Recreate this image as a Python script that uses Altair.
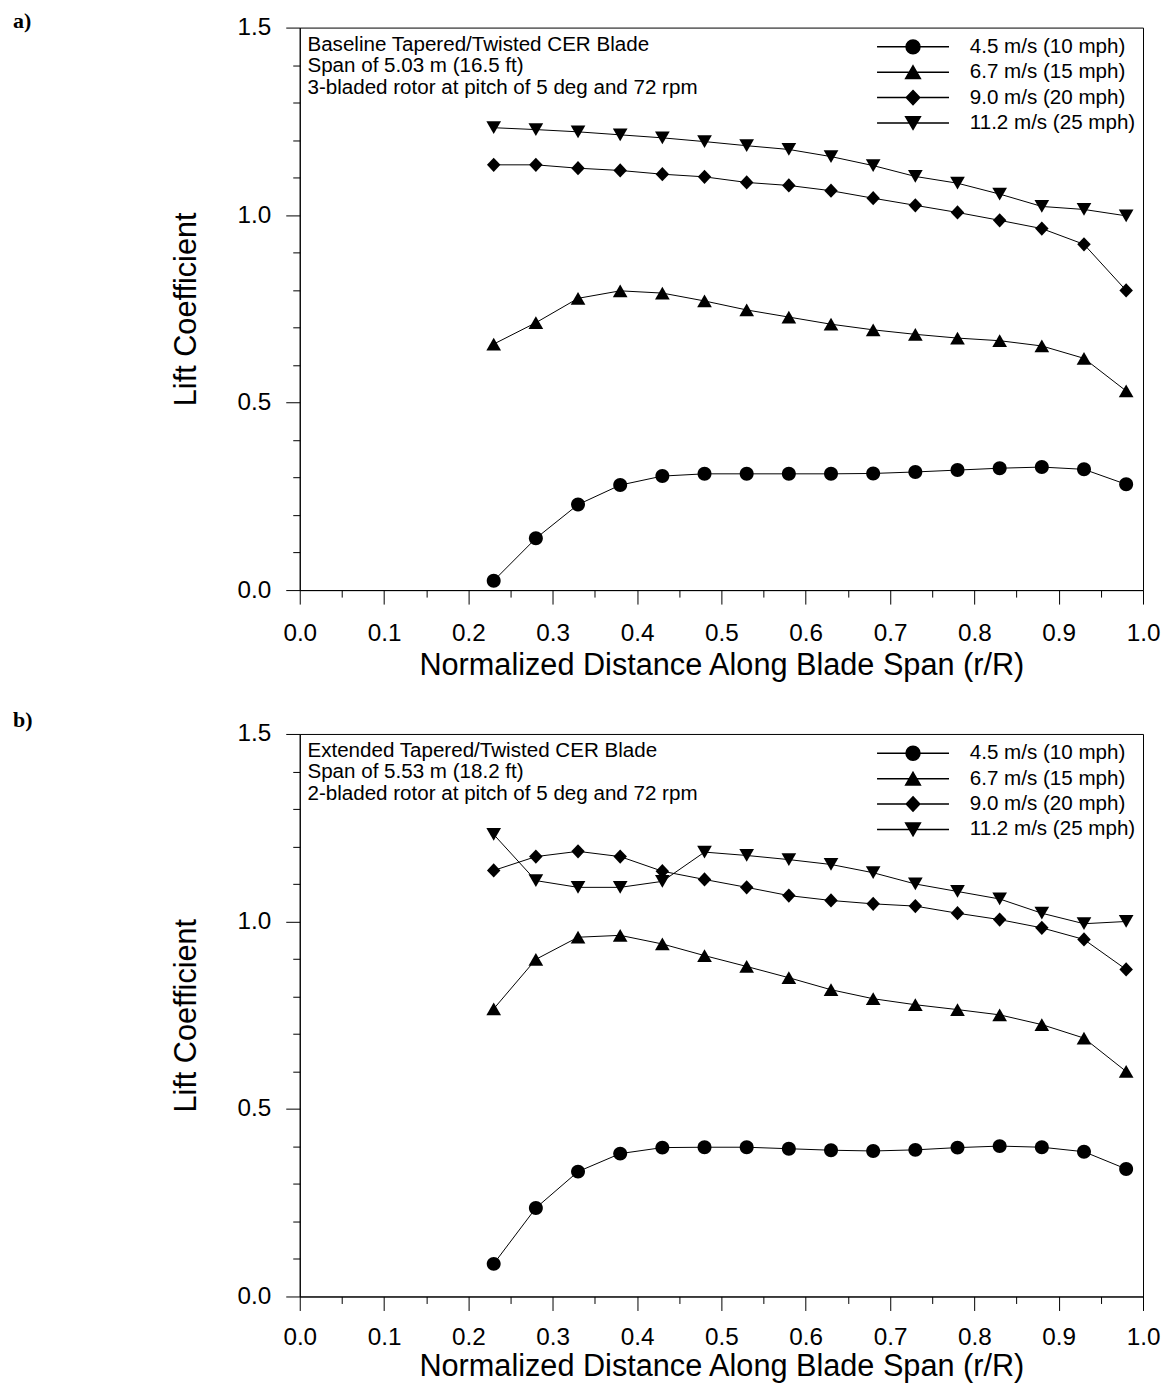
import altair as alt
import pandas as pd

# ---------------- data ----------------
r_over_R = [0.23, 0.28, 0.33, 0.38, 0.43, 0.48, 0.53, 0.58,
            0.63, 0.68, 0.73, 0.78, 0.83, 0.88, 0.93, 0.98]

series_labels = ["4.5 m/s (10 mph)", "6.7 m/s (15 mph)",
                 "9.0 m/s (20 mph)", "11.2 m/s (25 mph)"]

# panel a) baseline blade
a_45 = [0.025, 0.138, 0.228, 0.280, 0.304, 0.310, 0.310, 0.310,
        0.310, 0.311, 0.315, 0.320, 0.325, 0.328, 0.322, 0.282]
a_67 = [0.656, 0.713, 0.778, 0.798, 0.792, 0.771, 0.747, 0.728,
        0.709, 0.694, 0.682, 0.672, 0.665, 0.651, 0.618, 0.531]
a_90 = [1.134, 1.134, 1.125, 1.119, 1.109, 1.102, 1.087, 1.079,
        1.065, 1.045, 1.026, 1.007, 0.986, 0.964, 0.922, 0.799]
a_112 = [1.233, 1.228, 1.222, 1.214, 1.206, 1.196, 1.185, 1.175,
         1.156, 1.132, 1.103, 1.085, 1.056, 1.023, 1.015, 0.998]

# panel b) extended blade
b_45 = [0.087, 0.236, 0.333, 0.381, 0.397, 0.398, 0.398, 0.394,
        0.390, 0.388, 0.391, 0.397, 0.401, 0.398, 0.386, 0.340]
b_67 = [0.767, 0.899, 0.958, 0.963, 0.940, 0.909, 0.880, 0.850,
        0.818, 0.794, 0.778, 0.765, 0.751, 0.725, 0.689, 0.600]
b_90 = [1.136, 1.173, 1.187, 1.173, 1.134, 1.112, 1.091, 1.069,
        1.056, 1.047, 1.041, 1.022, 1.005, 0.983, 0.952, 0.872]
b_112 = [1.232, 1.109, 1.091, 1.091, 1.107, 1.185, 1.176, 1.165,
         1.152, 1.130, 1.100, 1.080, 1.060, 1.022, 0.994, 1.000]

notes_a = ["Baseline Tapered/Twisted CER Blade",
           "Span of 5.03 m (16.5 ft)",
           "3-bladed rotor at pitch of 5 deg and 72 rpm"]
notes_b = ["Extended Tapered/Twisted CER Blade",
           "Span of 5.53 m (18.2 ft)",
           "2-bladed rotor at pitch of 5 deg and 72 rpm"]

x_major = [0.0, 0.1, 0.2, 0.3, 0.4, 0.5, 0.6, 0.7, 0.8, 0.9, 1.0]
x_minor = [0.05, 0.15, 0.25, 0.35, 0.45, 0.55, 0.65, 0.75, 0.85, 0.95]
y_major = [0.0, 0.5, 1.0, 1.5]
y_minor = [0.1, 0.2, 0.3, 0.4, 0.6, 0.7, 0.8, 0.9, 1.1, 1.2, 1.3, 1.4]

x_title = "Normalized Distance Along Blade Span (r/R)"
y_title = "Lift Coefficient"

# ---------------- styling ----------------
FONT = "Liberation Sans"
marker_paths = [
    "M0.93,0A0.93,0.93 0 1,1 -0.93,0A0.93,0.93 0 1,1 0.93,0Z",
    "M0,-0.85L0.98,0.85L-0.98,0.85Z",
    "M0,-0.95L0.9,0L0,0.95L-0.9,0Z",
    "M0,0.85L0.98,-0.85L-0.98,-0.85Z",
]
SEG = "M-4.8,0L4.8,0"   # legend line through the marker
legend_paths = [SEG + p for p in marker_paths]


def long_df(series):
    rows = []
    for label, vals in zip(series_labels, series):
        for x, v in zip(r_over_R, vals):
            rows.append({"r": x, "cl": v, "series": label})
    return pd.DataFrame(rows)


def panel(series, notes, tag, tag_y, label_pad, title_pad):
    df = long_df(series)
    xs = alt.Scale(domain=[0, 1], nice=False, zero=False)
    ys = alt.Scale(domain=[0, 1.5], nice=False, zero=False)
    base = alt.Chart(df)

    lines = base.mark_line(color="black", strokeWidth=1).encode(
        x=alt.X("r:Q", scale=xs,
                axis=alt.Axis(values=x_minor, tickSize=7, labels=False,
                              domain=False, title=None, grid=False,
                              orient="bottom")),
        y=alt.Y("cl:Q", scale=ys,
                axis=alt.Axis(values=y_minor, tickSize=7, labels=False,
                              domain=False, title=None, grid=False,
                              orient="left")),
        detail="series:N",
    )

    points = base.mark_point(filled=True, opacity=1, color="black",
                             size=225).encode(
        x=alt.X("r:Q", scale=xs,
                axis=alt.Axis(values=x_major, format=".1f", tickSize=14,
                              labelPadding=label_pad, labelFlush=False,
                              title=x_title, titlePadding=title_pad,
                              grid=False, orient="bottom")),
        y=alt.Y("cl:Q", scale=ys,
                axis=alt.Axis(values=y_major, format=".1f", tickSize=14,
                              labelPadding=15, title=y_title,
                              titlePadding=36, grid=False, orient="left")),
        shape=alt.Shape(
            "series:N",
            scale=alt.Scale(domain=series_labels, range=marker_paths),
            legend=None,
        ),
    )

    # invisible copy of the points that only feeds the legend
    legend_src = base.transform_filter(alt.datum.r < 0.6).mark_point(
        filled=True, opacity=0, color="black", stroke="black",
        strokeWidth=1, size=225,
    ).encode(
        x=alt.X("r:Q", scale=xs, axis=None),
        y=alt.Y("cl:Q", scale=ys, axis=None),
        shape=alt.Shape(
            "series:N",
            scale=alt.Scale(domain=series_labels, range=legend_paths),
            legend=alt.Legend(
                title=None, orient="none", legendX=603.5, legendY=9,
                padding=0, symbolOpacity=1,
                labelFont=FONT, labelFontSize=20.6, labelColor="black",
                labelLimit=400, labelOffset=46.5, rowPadding=4.4,
                symbolSize=225,
            ),
        ),
    )

    note_layers = []
    for i, line in enumerate(notes):
        note_layers.append(
            alt.Chart(pd.DataFrame({"note": [line]})).mark_text(
                align="left", baseline="alphabetic", font=FONT,
                fontSize=20.6, color="black",
            ).encode(x=alt.value(7.7), y=alt.value(23 + 21.5 * i),
                     text="note:N")
        )

    tag_mark = alt.Chart(pd.DataFrame({"tag": [tag]})).mark_text(
        align="left", baseline="top", font="Liberation Serif", fontSize=22,
        fontWeight="bold", color="black",
    ).encode(x=alt.value(-287), y=alt.value(tag_y), text="tag:N")

    return alt.layer(lines, points, legend_src, *note_layers, tag_mark
                     ).resolve_axis(x="independent", y="independent"
                     ).resolve_scale(shape="independent"
                     ).properties(width=844, height=563)


chart = alt.vconcat(
    panel([a_45, a_67, a_90, a_112], notes_a, "a)", -17, 17, 5),
    panel([b_45, b_67, b_90, b_112], notes_b, "b)", -24, 15, 2),
    spacing=27,
).resolve_scale(shape="independent").properties(
    padding={"left": 4, "top": 0, "right": 0, "bottom": 0},
    background="white",
).configure_view(
    stroke="black", strokeWidth=1
).configure_axis(
    domainColor="black", domainWidth=1, tickColor="black", tickWidth=1,
    labelColor="black", titleColor="black", labelFont=FONT, titleFont=FONT,
    labelFontSize=24.3, titleFontSize=30.7, titleFontWeight="normal",
)

chart.save("out.html", embed_options={"renderer": "svg", "actions": False})
